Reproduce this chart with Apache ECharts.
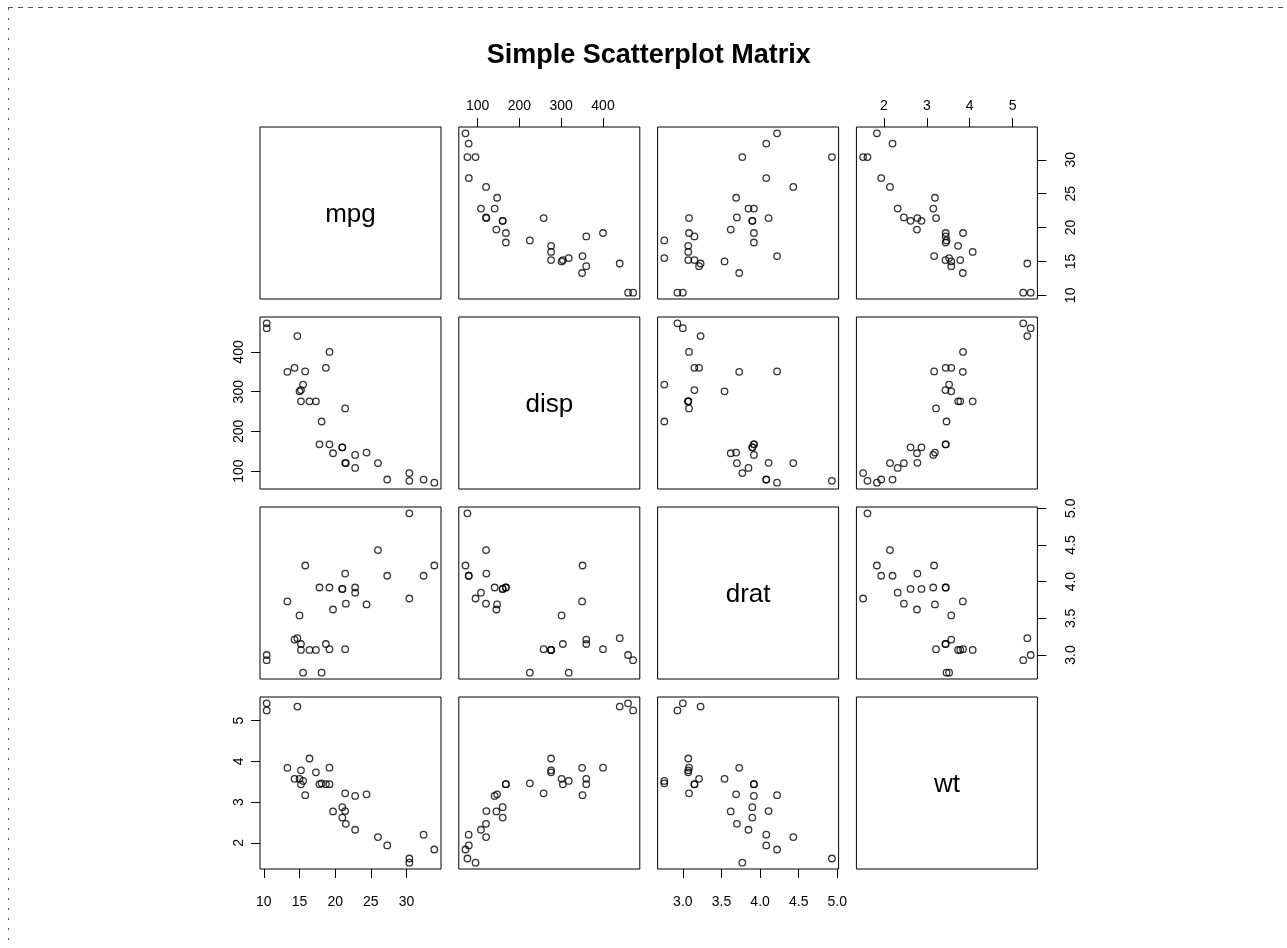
<!DOCTYPE html>
<html>
<head>
<meta charset="utf-8">
<script src="https://cdn.jsdelivr.net/npm/echarts@6/dist/echarts.min.js"></script>
<style>
  html, body { margin: 0; padding: 0; background: #fff; }
  #chart { width: 1287px; height: 948px; }
</style>
</head>
<body>
<div id="chart"></div>
<script>
// Motor Trend car road tests (32 cars)
const mpg = [21.0, 21.0, 22.8, 21.4, 18.7, 18.1, 14.3, 24.4, 22.8, 19.2, 17.8, 16.4, 17.3, 15.2, 10.4, 10.4,
             14.7, 32.4, 30.4, 33.9, 21.5, 15.5, 15.2, 13.3, 19.2, 27.3, 26.0, 30.4, 15.8, 19.7, 15.0, 21.4];
const disp = [160, 160, 108, 258, 360, 225, 360, 146.7, 140.8, 167.6, 167.6, 275.8, 275.8, 275.8, 472, 460,
              440, 78.7, 75.7, 71.1, 120.1, 318, 304, 350, 400, 79, 120.3, 95.1, 351, 145, 301, 121];
const drat = [3.90, 3.90, 3.85, 3.08, 3.15, 2.76, 3.21, 3.69, 3.92, 3.92, 3.92, 3.07, 3.07, 3.07, 2.93, 3.00,
              3.23, 4.08, 4.93, 4.22, 3.70, 2.76, 3.15, 3.73, 3.08, 4.08, 4.43, 3.77, 4.22, 3.62, 3.54, 4.11];
const wt = [2.620, 2.875, 2.320, 3.215, 3.440, 3.460, 3.570, 3.190, 3.150, 3.440, 3.440, 4.070, 3.730, 3.780, 5.250, 5.424,
            5.345, 2.200, 1.615, 1.835, 2.465, 3.520, 3.435, 3.840, 3.845, 1.935, 2.140, 1.513, 3.170, 2.770, 3.570, 2.780];

const varNames = ['mpg', 'disp', 'drat', 'wt'];
const mpgTicks = [10, 15, 20, 25, 30];
const dispTicks = [100, 200, 300, 400];
const dratTicks = [3.0, 3.5, 4.0, 4.5, 5.0];
const wtTicks = [2, 3, 4, 5];
const mainTitle = 'Simple Scatterplot Matrix';

const columns = [mpg, disp, drat, wt];
const ticks = [mpgTicks, dispTicks, dratTicks, wtTicks];
const tickDigits = [0, 0, 1, 0];

// panel layout
const P = { left: 260, top: 127, w: 181, h: 172, stepX: 198.8, stepY: 190 };
const FONT = '"Liberation Sans", Arial, Helvetica, sans-serif';
const TICK_LEN = 9;

// 4% padding either side of the data range
function paddedRange(arr) {
  const lo = Math.min(...arr), hi = Math.max(...arr);
  const pad = (hi - lo) * 0.04;
  return [lo - pad, hi + pad];
}
const ranges = columns.map(paddedRange);

const grids = [], xAxes = [], yAxes = [], series = [], graphics = [];
const n = varNames.length;

for (let i = 0; i < n; i++) {
  for (let j = 0; j < n; j++) {
    const idx = i * n + j;
    const gx = P.left + j * P.stepX;
    const gy = P.top + i * P.stepY;
    grids.push({
      left: gx, top: gy, width: P.w, height: P.h,
      show: true, borderColor: '#000', borderWidth: 1, backgroundColor: 'transparent'
    });

    // x axis: top on even columns of first row, bottom on odd columns of last row
    let xPos = 'bottom', xShow = false, xMargin = 26;
    if (i === 0 && j % 2 === 1) { xPos = 'top'; xShow = true; xMargin = 14; }
    if (i === n - 1 && j % 2 === 0) { xPos = 'bottom'; xShow = true; xMargin = 26; }
    xAxes.push({
      type: 'value', gridIndex: idx, position: xPos,
      min: ranges[j][0], max: ranges[j][1],
      splitLine: { show: false },
      axisLine: { show: false },
      axisTick: { show: xShow, length: TICK_LEN, customValues: ticks[j], lineStyle: { color: '#000', width: 1 } },
      axisLabel: {
        show: xShow, customValues: ticks[j], margin: xMargin,
        color: '#000', fontSize: 14, fontFamily: FONT,
        formatter: (v) => Number(v).toFixed(tickDigits[j])
      }
    });

    // y axis: left on even rows of first column, right on odd rows of last column
    let yPos = 'left', yShow = false, yMargin = 14;
    if (j === 0 && i % 2 === 1) { yPos = 'left'; yShow = true; yMargin = 14; }
    if (j === n - 1 && i % 2 === 0) { yPos = 'right'; yShow = true; yMargin = 27; }
    yAxes.push({
      type: 'value', gridIndex: idx, position: yPos,
      min: ranges[i][0], max: ranges[i][1],
      splitLine: { show: false },
      axisLine: { show: false },
      axisTick: { show: yShow, length: TICK_LEN, customValues: ticks[i], lineStyle: { color: '#000', width: 1 } },
      axisLabel: {
        show: yShow, customValues: ticks[i], margin: yMargin, rotate: 90,
        color: '#000', fontSize: 14, fontFamily: FONT,
        formatter: (v) => Number(v).toFixed(tickDigits[i])
      }
    });

    if (i === j) {
      graphics.push({
        type: 'text', x: gx + P.w / 2, y: gy + P.h / 2 + 2,
        style: {
          text: varNames[i], font: '26px ' + FONT, fill: '#000',
          textAlign: 'center', textVerticalAlign: 'middle', align: 'center', verticalAlign: 'middle'
        }
      });
    } else {
      const xs = columns[j], ys = columns[i];
      series.push({
        type: 'scatter', xAxisIndex: idx, yAxisIndex: idx,
        data: xs.map((v, k) => [v, ys[k]]),
        symbol: 'circle', symbolSize: 6.5,
        itemStyle: { color: 'rgba(0,0,0,0)', borderColor: '#000', borderWidth: 1.3 },
        emphasis: { disabled: true },
        silent: true, animation: false
      });
    }
  }
}

// title centred over the panel block
const blockCenter = P.left + ((n - 1) * P.stepX + P.w) / 2;
graphics.push({
  type: 'text', x: blockCenter, y: 56,
  style: {
    text: mainTitle, font: 'bold 27px ' + FONT, fill: '#000',
    textAlign: 'center', textVerticalAlign: 'middle', align: 'center', verticalAlign: 'middle'
  }
});

// frame: dashed top edge, dotted left edge
graphics.push({
  type: 'line', shape: { x1: 8, y1: 7.5, x2: 1287, y2: 7.5 },
  style: { stroke: '#555', lineWidth: 1, lineDash: [5, 5] }
});
graphics.push({
  type: 'line', shape: { x1: 8.5, y1: 8, x2: 8.5, y2: 948 },
  style: { stroke: '#555', lineWidth: 1, lineDash: [2, 8] }
});

const chart = echarts.init(document.getElementById('chart'), null, { renderer: 'canvas' });
chart.setOption({
  backgroundColor: '#fff',
  animation: false,
  grid: grids,
  xAxis: xAxes,
  yAxis: yAxes,
  series: series,
  graphic: graphics
});
</script>
</body>
</html>
